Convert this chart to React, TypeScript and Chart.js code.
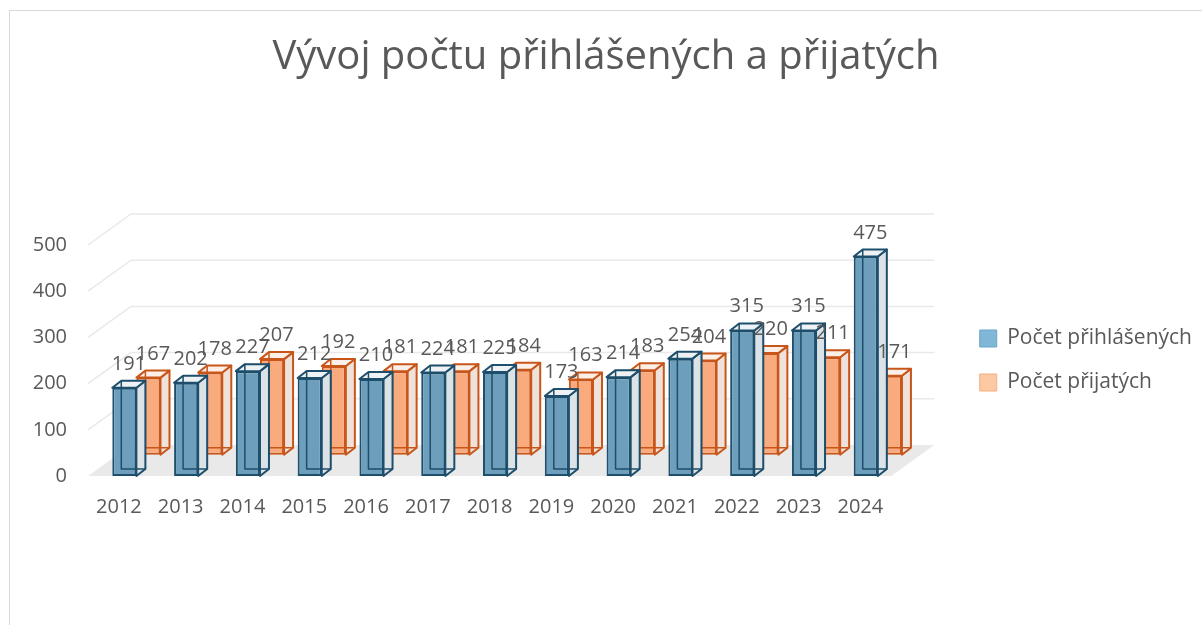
import React, { useEffect, useRef } from 'react';
import { Chart, registerables } from 'chart.js';

Chart.register(...registerables);

const categories = ['2012', '2013', '2014', '2015', '2016', '2017', '2018', '2019', '2020', '2021', '2022', '2023', '2024'];
const prihlaseni = [191, 202, 227, 212, 210, 224, 225, 173, 214, 254, 315, 315, 475];
const prijati = [167, 178, 207, 192, 181, 181, 184, 163, 183, 204, 220, 211, 171];
const yTicks = [0, 100, 200, 300, 400, 500];
const seriesNames = ['Počet přihlášených', 'Počet přijatých'];
const titleText = 'Vývoj počtu přihlášených a přijatých';

const FONT = "'Open Sans', 'Noto Sans', 'DejaVu Sans', sans-serif";
const TEXT = '#595959';
const CAP_DX = 9;
const CAP_DY = 7;
const WALL_DX = 43;
const WALL_DY = 31;
const CLUSTER_SHIFT = 17.5;
const DEPTH_SHIFT_UNITS = 46;

const styles = [
  { front: '#6d9fbc', border: '#1d4e6b', side: '#dce3e7', top: '#eef2f5', legendFill: '#80b7d6', legendStroke: '#6aa6c8' },
  { front: '#f9ab7d', border: '#c8561a', side: '#efe2db', top: '#fcefe7', legendFill: '#fcc9a3', legendStroke: '#f6ae80' },
];

const box3d = {
  id: 'box3d',
  beforeDatasetsDraw(chart: any) {
    const { ctx, chartArea, scales } = chart;
    const y = scales.y;
    const L = chartArea.left - CLUSTER_SHIFT;
    const R = chartArea.right - CLUSTER_SHIFT;
    ctx.save();
    ctx.strokeStyle = '#e9e9e9';
    ctx.lineWidth = 1.5;
    y.ticks.forEach((t: any) => {
      if (t.value === 0) return;
      const py = y.getPixelForValue(t.value);
      ctx.beginPath();
      ctx.moveTo(L, py);
      ctx.lineTo(L + WALL_DX, py - WALL_DY);
      ctx.lineTo(R + WALL_DX, py - WALL_DY);
      ctx.stroke();
    });
    const b = y.getPixelForValue(0);
    ctx.fillStyle = '#e9e9e9';
    ctx.beginPath();
    ctx.moveTo(L, b);
    ctx.lineTo(R, b);
    ctx.lineTo(R + WALL_DX, b - WALL_DY);
    ctx.lineTo(L + WALL_DX, b - WALL_DY);
    ctx.closePath();
    ctx.fill();
    ctx.restore();
  },
  afterDatasetDraw(chart: any, args: any) {
    const { ctx } = chart;
    const st = styles[args.index];
    ctx.save();
    ctx.lineJoin = 'round';
    args.meta.data.forEach((bar: any) => {
      const { x, y, base, width } = bar.getProps(['x', 'y', 'base', 'width'], true);
      const l = x - width / 2;
      const r = x + width / 2;
      ctx.fillStyle = st.side;
      ctx.strokeStyle = st.border;
      ctx.lineWidth = 2;
      ctx.beginPath();
      ctx.moveTo(r, y);
      ctx.lineTo(r + CAP_DX, y - CAP_DY);
      ctx.lineTo(r + CAP_DX, base - CAP_DY);
      ctx.lineTo(r, base);
      ctx.closePath();
      ctx.fill();
      ctx.stroke();
      ctx.fillStyle = st.top;
      ctx.beginPath();
      ctx.moveTo(l, y);
      ctx.lineTo(l + CAP_DX, y - CAP_DY);
      ctx.lineTo(r + CAP_DX, y - CAP_DY);
      ctx.lineTo(r, y);
      ctx.closePath();
      ctx.fill();
      ctx.stroke();
      ctx.lineWidth = 1.5;
      ctx.beginPath();
      ctx.moveTo(l + CAP_DX, y - CAP_DY);
      ctx.lineTo(l + CAP_DX, base - CAP_DY);
      ctx.lineTo(r + CAP_DX, base - CAP_DY);
      ctx.stroke();
    });
    ctx.restore();
  },
  afterDatasetsDraw(chart: any) {
    const { ctx } = chart;
    ctx.save();
    ctx.font = `20px ${FONT}`;
    ctx.fillStyle = TEXT;
    ctx.textAlign = 'center';
    ctx.textBaseline = 'alphabetic';
    [1, 0].forEach((di) => {
      const meta = chart.getDatasetMeta(di);
      const data = chart.data.datasets[di].data;
      meta.data.forEach((bar: any, i: number) => {
        const { x, y } = bar.getProps(['x', 'y'], true);
        ctx.fillText(String(data[i]), x + CAP_DX / 2, y - CAP_DY - 11);
      });
    });
    ctx.restore();
  },
};

export default function App() {
  const ref = useRef<HTMLCanvasElement>(null);
  useEffect(() => {
    document.body.style.overflow = 'hidden';
    const chart = new Chart(ref.current as HTMLCanvasElement, {
      type: 'bar',
      data: {
        labels: categories,
        datasets: [
          {
            label: seriesNames[0],
            data: prihlaseni,
            backgroundColor: styles[0].front,
            borderColor: styles[0].border,
            borderWidth: 2,
            borderSkipped: false,
            yAxisID: 'y',
            categoryPercentage: 0.78,
            barPercentage: 1.0,
          },
          {
            label: seriesNames[1],
            data: prijati,
            backgroundColor: styles[1].front,
            borderColor: styles[1].border,
            borderWidth: 2,
            borderSkipped: false,
            yAxisID: 'yDepth',
            categoryPercentage: 0.78,
            barPercentage: 1.0,
          },
        ],
      },
      options: {
        responsive: false,
        animation: false,
        layout: { padding: { left: 0, right: 0, top: 0, bottom: 87 } },
        scales: {
          x: {
            grid: { display: false, drawTicks: false },
            border: { display: false },
            ticks: {
              font: { size: 20, family: FONT },
              color: TEXT,
              padding: 19,
              labelOffset: -CLUSTER_SHIFT,
              autoSkip: false,
              maxRotation: 0,
            },
          },
          y: {
            min: yTicks[0],
            max: yTicks[yTicks.length - 1],
            afterBuildTicks: (s: any) => {
              s.ticks = yTicks.map((v) => ({ value: v }));
            },
            grid: { display: false, drawTicks: false },
            border: { display: false },
            ticks: { font: { size: 20, family: FONT }, color: TEXT, padding: 38.5 },
            afterFit: (s: any) => {
              s.width = 95.5;
            },
          },
          yDepth: {
            display: false,
            min: yTicks[0] - DEPTH_SHIFT_UNITS,
            max: yTicks[yTicks.length - 1] - DEPTH_SHIFT_UNITS,
          },
          yRight: {
            position: 'right',
            display: true,
            grid: { display: false, drawTicks: false },
            border: { display: false },
            ticks: { display: false },
            afterFit: (s: any) => {
              s.width = 48;
            },
          },
        },
        plugins: {
          title: {
            display: true,
            text: titleText,
            color: TEXT,
            font: { size: 40, family: FONT, weight: 'normal' },
            padding: { top: 23, bottom: 163 },
          },
          legend: {
            position: 'right',
            fullSize: false,
            align: 'center',
            maxWidth: 400,
            labels: {
              color: TEXT,
              font: { size: 21, family: FONT },
              boxWidth: 17,
              boxHeight: 17,
              padding: 23,
              generateLabels: (chart: any) =>
                chart.data.datasets.map((ds: any, i: number) => ({
                  text: ds.label,
                  fillStyle: styles[i].legendFill,
                  strokeStyle: styles[i].legendStroke,
                  lineWidth: 1,
                  hidden: false,
                  datasetIndex: i,
                  fontColor: TEXT,
                })),
            },
          },
          tooltip: { enabled: false },
        },
      },
      plugins: [box3d],
    } as any);
    return () => chart.destroy();
  }, []);

  return (
    <div
      style={{
        position: 'absolute',
        left: 9,
        top: 10,
        width: 1193,
        height: 615,
        borderLeft: '1px solid #d9d9d9',
        borderTop: '1px solid #d9d9d9',
        boxSizing: 'border-box',
        background: '#fff',
      }}
    >
      <canvas ref={ref} width={1192} height={614} style={{ display: 'block' }} />
    </div>
  );
}
